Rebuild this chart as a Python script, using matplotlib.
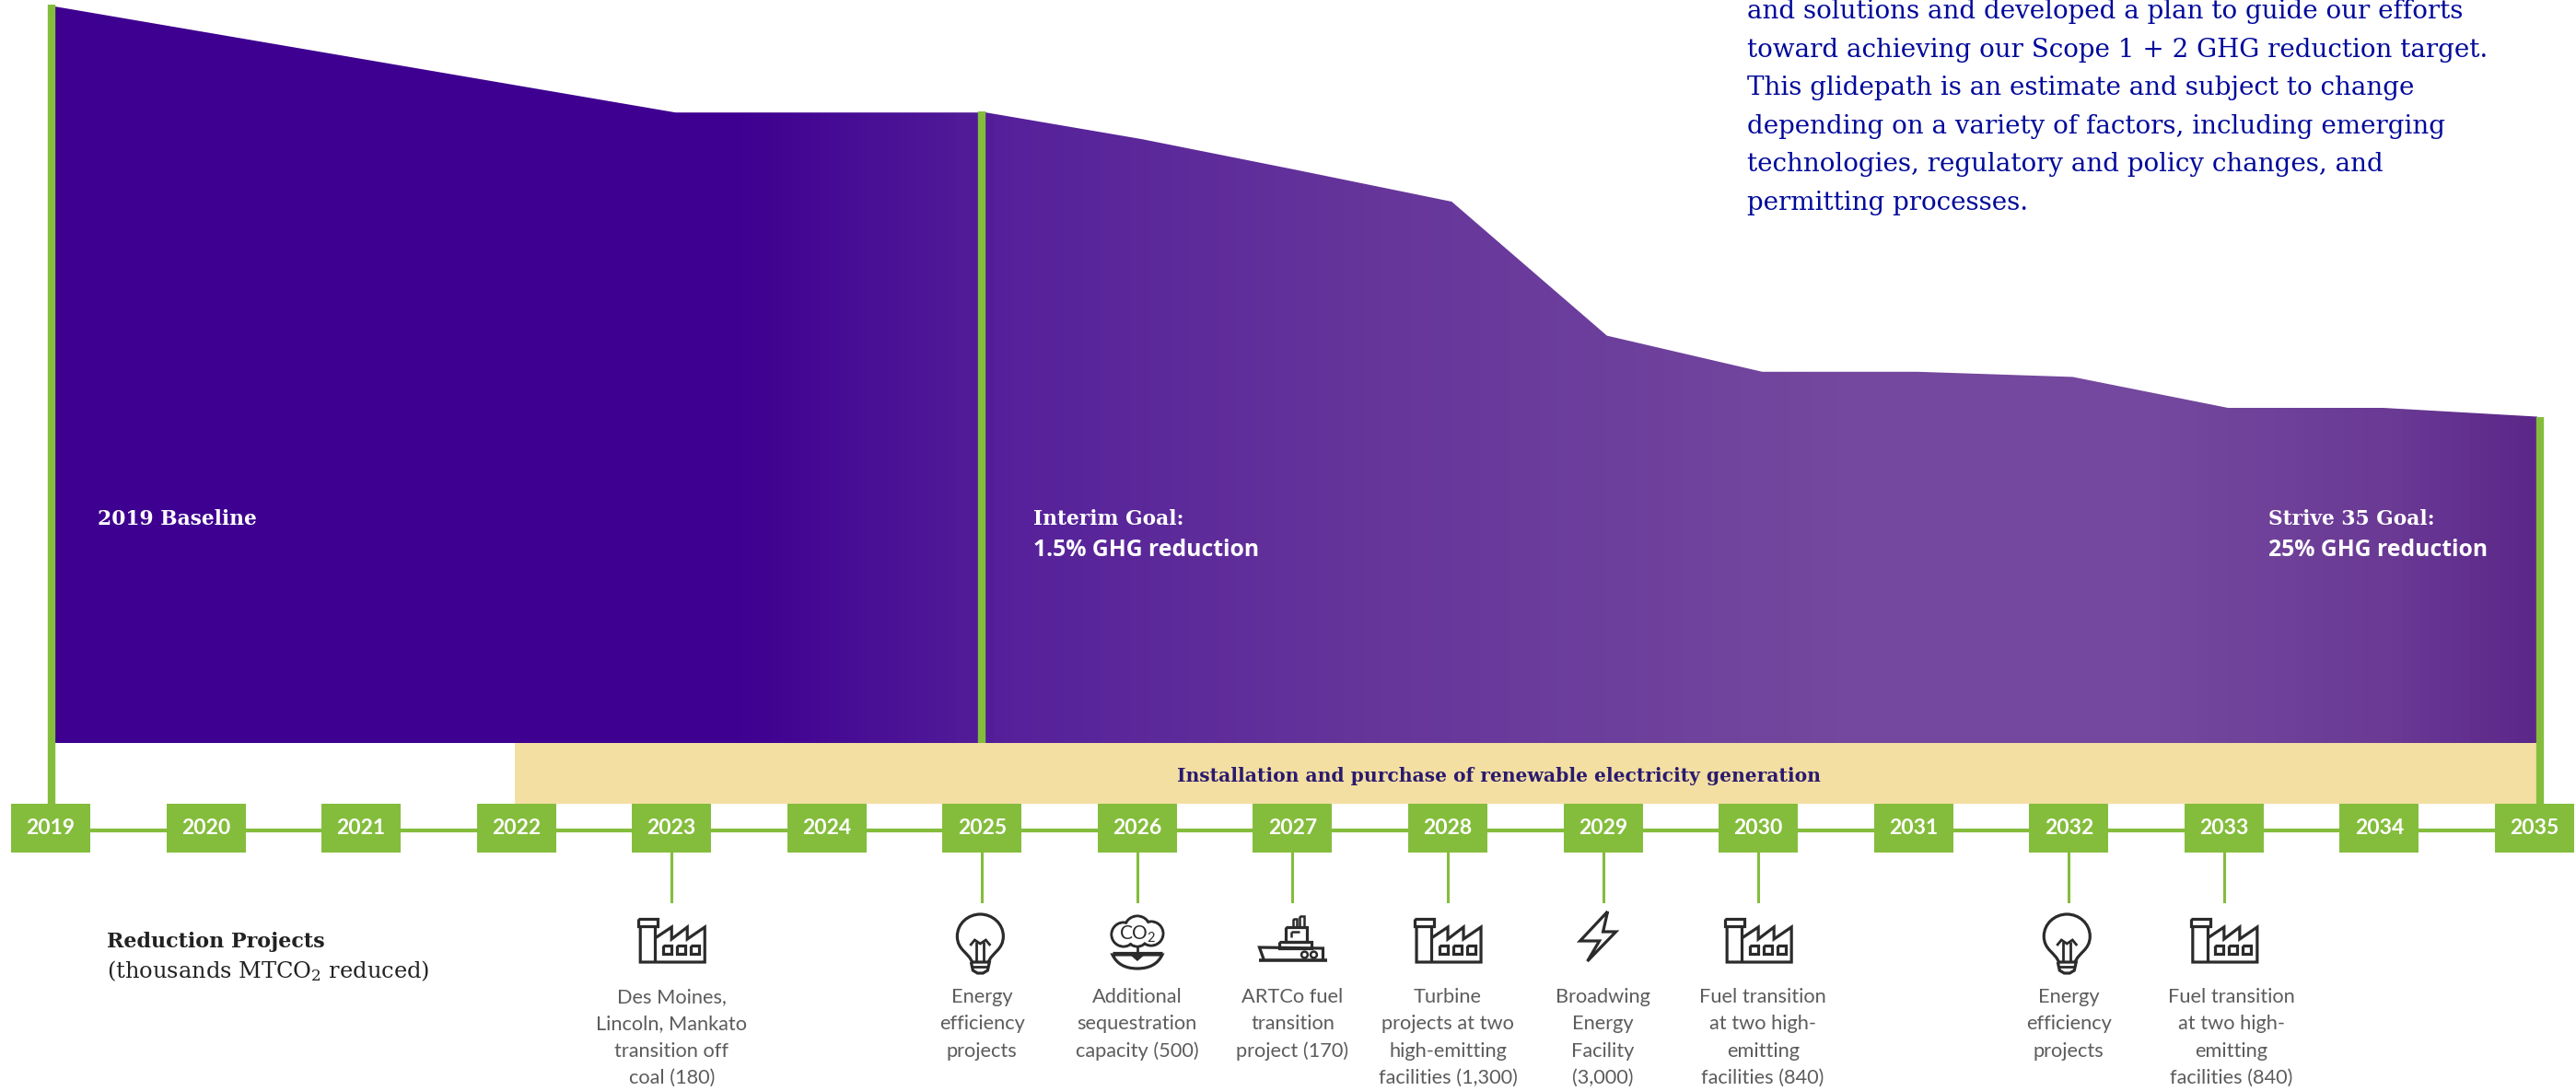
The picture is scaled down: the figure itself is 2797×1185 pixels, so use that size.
import matplotlib
matplotlib.use("Agg")
import matplotlib.pyplot as plt
import numpy as np
from matplotlib.colors import LinearSegmentedColormap
from matplotlib.patches import Rectangle, Circle, Polygon, PathPatch
from matplotlib.path import Path

plt.rcParams['mathtext.default'] = 'regular'

SLAB = 'DejaVu Serif'
SANS = 'Lato'

W, H = 2797, 1185
GREEN = '#84bd3c'
CREAM = '#f3dfa2'
ICON = '#2b2b2b'

# glidepath (area height, top of chart = 100)
years = [2019, 2023, 2025, 2026, 2027, 2028, 2029, 2030, 2031, 2032, 2033, 2034, 2035]
glide = [100.0, 85.6, 85.6, 82.0, 77.8, 73.5, 55.3, 50.4, 50.4, 49.7, 45.5, 45.5, 44.3]

timeline_years = list(range(2019, 2036))
renewables_start = 2022
renewables_end = 2035

# gradient stops: pixel position along the chart / colour
grad_x = [59, 800, 1000, 1100, 1500, 2000, 2350, 2600, 2755]
grad_c = ['#3f0090', '#3e0091', '#4d1597', '#56219a', '#66369b', '#74489e', '#74489e', '#6a3a95', '#5b2789']

project_years = [2023, 2025, 2026, 2027, 2028, 2029, 2030, 2032, 2033]
project_icons = ['factory', 'bulb', 'co2', 'ship', 'factory', 'bolt', 'factory', 'bulb', 'factory']
project_labels = [
    ['Des Moines,', 'Lincoln, Mankato', 'transition off', 'coal (180)'],
    ['Energy', 'efficiency', 'projects'],
    ['Additional', 'sequestration', 'capacity (500)'],
    ['ARTCo fuel', 'transition', 'project (170)'],
    ['Turbine', 'projects at two', 'high-emitting', 'facilities (1,300)'],
    ['Broadwing', 'Energy', 'Facility', '(3,000)'],
    ['Fuel transition', 'at two high-', 'emitting', 'facilities (840)'],
    ['Energy', 'efficiency', 'projects'],
    ['Fuel transition', 'at two high-', 'emitting', 'facilities (840)'],
]
label_shift = [0, 0, 0, 0, 0, 0, 5, 0, 8]

description = [
    'and solutions and developed a plan to guide our efforts',
    'toward achieving our Scope 1 + 2 GHG reduction target.',
    'This glidepath is an estimate and subject to change',
    'depending on a variety of factors, including emerging',
    'technologies, regulatory and policy changes, and',
    'permitting processes.',
]


def px(year):
    return 55 + 168.56 * (year - 2019)


fig = plt.figure(figsize=(W / 100, H / 100), dpi=100)

# x in years, y in pixels
ax = fig.add_axes([0, 0, 1, 1])
ax.set_xlim(2019 - 55 / 168.56, 2019 + (W - 55) / 168.56)
ax.set_ylim(H, 0)
ax.axis('off')

# same x, y = glidepath value (0 at y=807, 100 at y=7)
ax_g = ax.twinx()
ax_g.axis('off')

# plain pixels, for the icons and the loose text
ax_p = fig.add_axes([0, 0, 1, 1])
ax_p.set_xlim(0, W)
ax_p.set_ylim(H, 0)
ax_p.axis('off')
ax_p.patch.set_alpha(0)

# area with horizontal gradient
cmap = LinearSegmentedColormap.from_list(
    'glide', [((x - grad_x[0]) / (grad_x[-1] - grad_x[0]), c) for x, c in zip(grad_x, grad_c)])
verts = [(2019.02, 0)] + [(y + 0.025, v) for y, v in zip(years, glide)] + [(2035.02, glide[-1]), (2035.02, 0)]
poly = Polygon(verts, closed=True, fc='none', ec='none', transform=ax_g.transData)
ax_g.add_patch(poly)
im = ax_g.imshow(np.linspace(0, 1, 512).reshape(1, -1), cmap=cmap, aspect='auto',
                 extent=(2019.02, 2035.02, 0, 100), zorder=1)
im.set_clip_path(poly)
ax_g.set_xlim(ax.get_xlim())
ax_g.set_ylim((807 - H) / 8, 807 / 8)

# renewables band
ax.add_patch(Rectangle((renewables_start - 0.012, 807), renewables_end + 0.032 - renewables_start, 66,
                       fc=CREAM, ec='none', zorder=1))
ax.text(2028.33, 843, 'Installation and purchase of renewable electricity generation',
        ha='center', va='center', fontsize=14.6, fontweight='bold', family=SLAB, color='#2a1a6e')

# timeline
ax.plot([timeline_years[0], timeline_years[-1]], [902, 902], color=GREEN, lw=3, zorder=2)
for y in timeline_years:
    ax.add_patch(Rectangle((y - 43 / 168.56, 873), 86 / 168.56, 53, fc=GREEN, ec='none', zorder=3))
    ax.text(y, 900, str(y), ha='center', va='center', color='white', fontsize=16.5,
            fontweight='bold', family=SANS, zorder=4)

# vertical green markers
ax_p.plot([56, 56], [5, 873], color=GREEN, lw=6, solid_capstyle='butt')
ax_p.plot([1066, 1066], [121, 807], color=GREEN, lw=6, solid_capstyle='butt')
ax_p.plot([2758, 2758], [453, 873], color=GREEN, lw=6, solid_capstyle='butt')


def line(pts, lw=2.3, closed=False):
    xs = [p[0] for p in pts]
    ys = [p[1] for p in pts]
    if closed:
        xs.append(xs[0])
        ys.append(ys[0])
    ax_p.plot(xs, ys, color=ICON, lw=lw, solid_joinstyle='miter', solid_capstyle='butt')


def rect(x0, y0, x1, y1, lw=2.3):
    line([(x0, y0), (x1, y0), (x1, y1), (x0, y1)], lw=lw, closed=True)


def draw_factory(c):
    rect(c - 36, 998, c - 15, 1006)
    line([(c - 34, 1006), (c - 34, 1045), (c + 36, 1045), (c + 36, 1007), (c + 17, 1020),
          (c + 17, 1007), (c, 1020), (c, 1007), (c - 18, 1019)])
    line([(c - 18, 1006), (c - 18, 1045)])
    for dx in (-5, 10, 25):
        rect(c + dx - 4.5, 1027, c + dx + 4.5, 1036)


def draw_bulb(c):
    c = c - 2
    ax_p.add_patch(PathPatch(Path(
        [(c - 9, 1045), (c - 12, 1035), (c - 25, 1032), (c - 25, 1017),
         (c - 25, 1003), (c - 13, 993), (c, 993),
         (c + 13, 993), (c + 25, 1003), (c + 25, 1017),
         (c + 25, 1032), (c + 12, 1035), (c + 9, 1045)],
        [Path.MOVETO] + [Path.CURVE4] * 12),
        fc='none', ec=ICON, lw=2.3))
    line([(c - 4, 1023), (c - 4, 1044)], lw=2)
    line([(c + 4, 1023), (c + 4, 1044)], lw=2)
    line([(c - 11, 1027), (c - 6, 1021), (c, 1025), (c + 6, 1021), (c + 11, 1027)], lw=2)
    line([(c - 10, 1045), (c + 10, 1045), (c + 8, 1054), (c + 3, 1057), (c - 3, 1057), (c - 8, 1054)],
         closed=True)
    line([(c - 9, 1050), (c + 9, 1050)], lw=2)


def draw_co2(c):
    lobes = [(-15, 1015, 13), (0, 1009, 14), (15, 1014, 13), (0, 1016, 12)]
    for dx, dy, r in lobes:
        ax_p.add_patch(Circle((c + dx, dy), r, fc='none', ec=ICON, lw=2.2))
    for dx, dy, r in lobes:
        ax_p.add_patch(Circle((c + dx, dy), r - 1.5, fc='white', ec='none', zorder=3))
    ax_p.text(c, 1015, 'CO$_2$', ha='center', va='center', fontsize=15, family=SANS,
              color=ICON, zorder=4)
    line([(c - 27, 1035), (c + 27, 1035)])
    ax_p.add_patch(PathPatch(Path(
        [(c - 27, 1037), (c - 20, 1052), (c, 1052), (c + 20, 1052), (c + 27, 1037), (c - 27, 1037)],
        [Path.MOVETO, Path.CURVE3, Path.CURVE3, Path.CURVE3, Path.CURVE3, Path.CLOSEPOLY]),
        fc='none', ec=ICON, lw=2.3))
    ax_p.add_patch(Polygon([(c - 8, 1037), (c + 8, 1037), (c, 1044)], fc=ICON, ec='none'))
    line([(c, 1028), (c, 1038)], lw=2)


def draw_ship(c):
    line([(c - 36, 1043), (c + 38, 1043)], lw=2.6)
    line([(c - 31, 1043), (c - 36, 1029), (c + 33, 1030), (c + 33, 1043)])
    rect(c - 14, 1023, c + 21, 1030)
    rect(c - 7, 1007, c + 16, 1023)
    rect(c + 1, 998, c + 5, 1007, lw=1.8)
    rect(c + 8, 995, c + 13, 1007, lw=1.8)
    line([(c - 1, 1012), (c + 8, 1012)], lw=1.8)
    line([(c - 1, 1012), (c - 1, 1018)], lw=1.8)
    for dx in (13, 23):
        ax_p.add_patch(Circle((c + dx, 1037), 3.4, fc='none', ec=ICON, lw=1.8))


def draw_bolt(c):
    line([(c + 5, 990), (c - 25, 1022), (c - 4, 1022), (c - 17, 1044), (c + 14, 1012),
          (c, 1012)], closed=True)


icon_funcs = {'factory': draw_factory, 'bulb': draw_bulb, 'co2': draw_co2,
              'ship': draw_ship, 'bolt': draw_bolt}

# projects
for y, kind, lab, dx in zip(project_years, project_icons, project_labels, label_shift):
    ax.plot([y, y], [926, 979], color=GREEN, lw=2.2, zorder=2)
    icon_funcs[kind](px(y))
    for i, t in enumerate(lab):
        ax_p.text(px(y) + dx, 1083 + i * 29.3, t, ha='center', va='center', fontsize=15.7,
                  family=SANS, color='#5c5c5c')

# loose labels
ax_p.text(116, 1023, 'Reduction Projects', fontsize=16, fontweight='bold', family=SLAB,
          color='#222222', va='center')
ax_p.text(116, 1055, '(thousands MTCO$_2$ reduced)', fontsize=17.4, family=SLAB,
          color='#222222', va='center')
ax_p.text(106, 564, '2019 Baseline', fontsize=15.7, fontweight='bold', family=SLAB, color='white',
          va='center')
ax_p.text(1122, 564, 'Interim Goal:', fontsize=15.7, fontweight='bold', family=SLAB, color='white',
          va='center')
ax_p.text(1122, 597, '1.5% GHG reduction', fontsize=17.8, fontweight='bold', family='Open Sans',
          color='white', va='center')
ax_p.text(2463, 564, 'Strive 35 Goal:', fontsize=15.7, fontweight='bold', family=SLAB, color='white',
          va='center')
ax_p.text(2463, 597, '25% GHG reduction', fontsize=17.8, fontweight='bold', family='Open Sans',
          color='white', va='center')

for i, t in enumerate(description):
    ax_p.text(1897, 20 + i * 41.6, t, fontsize=20, family=SLAB, color='#00099a', va='baseline')

fig.savefig('out.png', dpi=100)
